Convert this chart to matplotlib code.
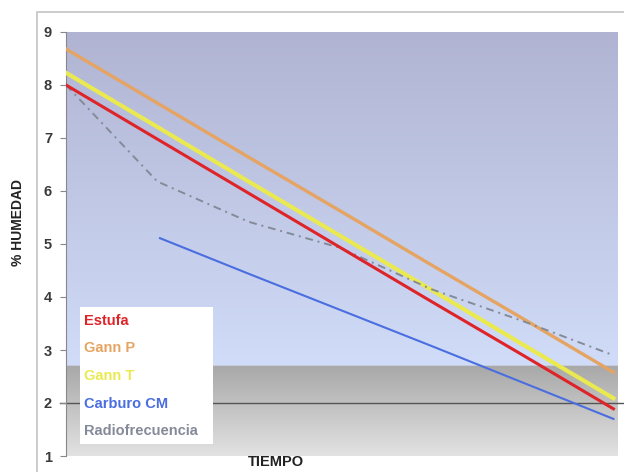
import numpy as np
import matplotlib
matplotlib.use("Agg")
import matplotlib.pyplot as plt
from matplotlib.patches import Rectangle

plt.rcParams['font.family'] = ['Liberation Sans', 'DejaVu Sans']

# tiempo (sin etiquetas en el eje)
tiempo = [0, 1, 2, 3, 4, 5, 6]
estufa = [8.00, 6.98, 5.96, 4.94, 3.92, 2.91, 1.89]
gann_p = [8.68, 7.66, 6.64, 5.63, 4.61, 3.60, 2.58]
gann_t = [8.23, 7.21, 6.18, 5.16, 4.14, 3.11, 2.09]
t_carburo = [1.03, 2, 3, 4, 5, 6]
carburo = [5.11, 4.44, 3.76, 3.08, 2.39, 1.70]
radio = [8.00, 6.18, 5.42, 4.93, 4.15, 3.55, 2.90]

nombres = ["Estufa", "Gann P", "Gann T", "Carburo CM", "Radiofrecuencia"]
colores = ["#de2428", "#e6a463", "#eaea50", "#4a6ee0", "#858a98"]

fig = plt.figure(figsize=(6.24, 4.72), dpi=100)
marco = Rectangle((37 / 624, -0.1), 1.0, 1.1 - 12 / 472, transform=fig.transFigure,
                  facecolor="white", edgecolor="#c4c4c4", lw=1.2, zorder=-1)
fig.patches.append(marco)

ax = fig.add_axes([66 / 624, 1 - 456 / 472, 552 / 624, 424 / 472])
ax.set_zorder(1)
ax.set_xlim(0, 6.05)
ax.set_ylim(1, 9)

# fondo degradado: azul arriba, gris abajo
n = 400
ys = np.linspace(9, 1, n)
img = np.zeros((n, 2, 3))
top, mid = np.array([176, 180, 210]) / 255, np.array([208, 220, 248]) / 255
gtop, gbot = np.array([168, 168, 168]) / 255, np.array([226, 226, 226]) / 255
for i, y in enumerate(ys):
    if y > 2.7:
        f = (9 - y) / (9 - 2.7)
        img[i, :, :] = top * (1 - f) + mid * f
    else:
        f = (2.7 - y) / 1.7
        img[i, :, :] = gtop * (1 - f) + gbot * f
ax.imshow(img, extent=[0, 6.05, 1, 9], aspect="auto", zorder=0, interpolation="bilinear")

ax.axhline(2, xmin=-0.01, xmax=1.02, color="#555555", lw=1, clip_on=False, zorder=1)

ax.plot(tiempo, gann_p, color=colores[1], lw=2.4, zorder=3)
ax.plot(tiempo, gann_t, color=colores[2], lw=3.0, zorder=3)
ax.plot(tiempo, estufa, color=colores[0], lw=2.2, zorder=4)
ax.plot(t_carburo, carburo, color=colores[3], lw=1.5, zorder=3)
ax.plot(tiempo, radio, color=colores[4], lw=1.4, ls=(0, (4, 2.5, 1, 2.5)), zorder=3)

for s in ["top", "right", "bottom"]:
    ax.spines[s].set_visible(False)
ax.spines["left"].set_color("#888888")
ax.set_xticks([])
ax.set_yticks(range(1, 10))
ax.tick_params(axis="y", length=4, color="#888888", labelsize=10.5, pad=6)
for lbl in ax.get_yticklabels():
    lbl.set_fontweight("bold")
    lbl.set_color("#3a3a3a")

fig.text(18 / 624, 1 - 222 / 472, "% HUMEDAD", rotation=90, ha="center", va="center",
         fontsize=10, fontweight="bold", color="#222222")
fig.text(276 / 624, 1 - 462 / 472, "TIEMPO", ha="center", va="center",
         fontsize=10.5, fontweight="bold", color="#222222", zorder=6)

# leyenda: solo texto coloreado en caja blanca
caja = Rectangle((80 / 624, 1 - 444 / 472), 133 / 624, 137 / 472,
                 transform=fig.transFigure, facecolor="white", edgecolor="none", zorder=5)
fig.patches.append(caja)
for k, (nm, c) in enumerate(zip(nombres, colores)):
    fig.text(84 / 624, 1 - (321 + 27.5 * k) / 472, nm, color=c, fontsize=10.5,
             fontweight="bold", ha="left", va="center", zorder=6)

fig.savefig("out.png", dpi=100)
